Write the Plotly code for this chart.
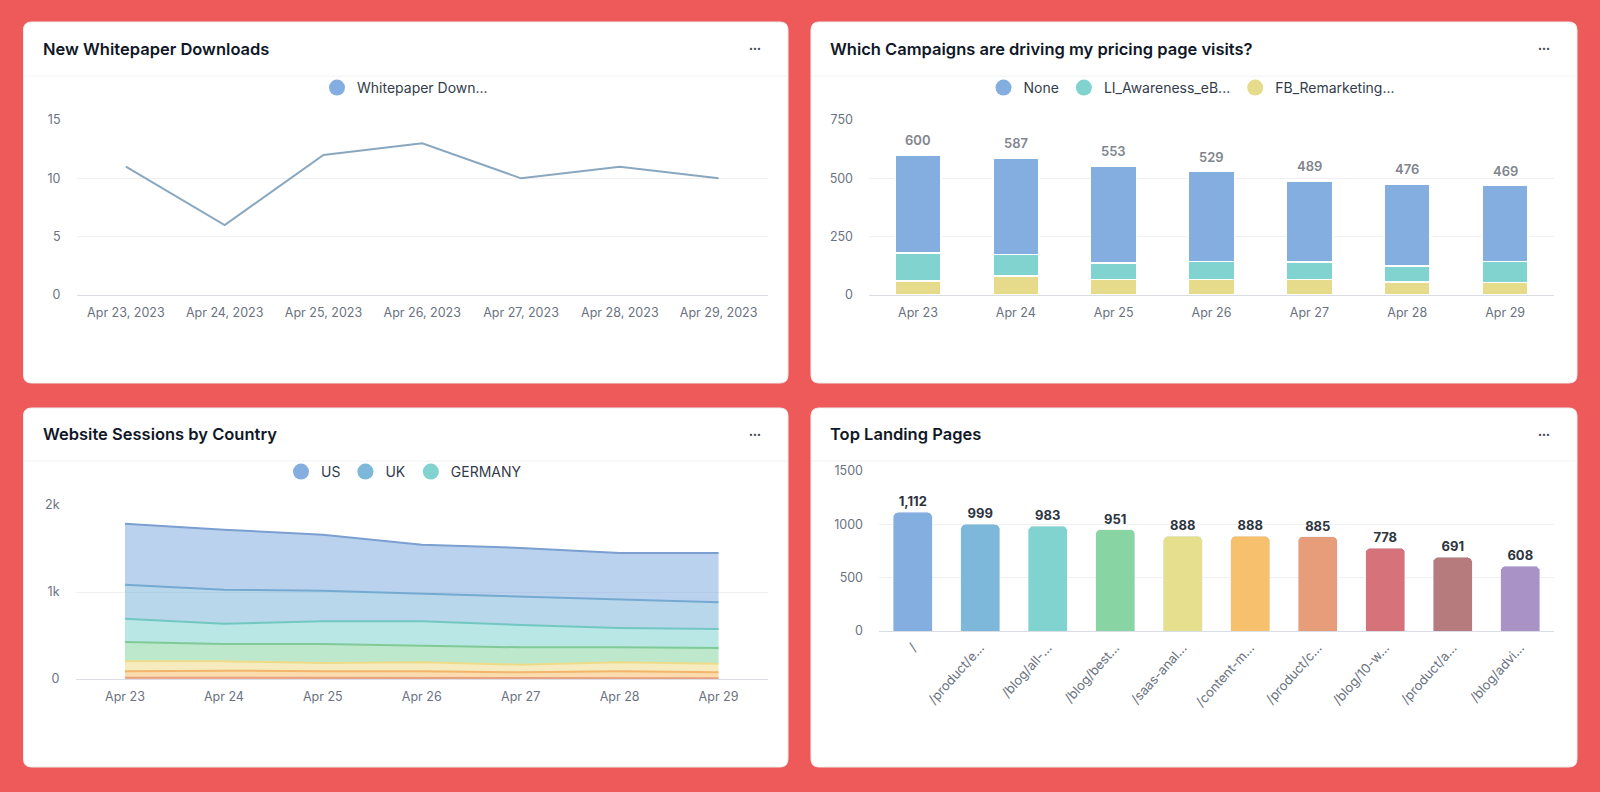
import plotly.graph_objects as go

W, H = 1600, 792

# ---------------- data ----------------
days_full = ["Apr 23, 2023", "Apr 24, 2023", "Apr 25, 2023", "Apr 26, 2023",
             "Apr 27, 2023", "Apr 28, 2023", "Apr 29, 2023"]
days_short = ["Apr 23", "Apr 24", "Apr 25", "Apr 26", "Apr 27", "Apr 28", "Apr 29"]

whitepaper_downloads = [11, 6, 12, 13, 10, 11, 10]

campaign_none = [419, 413, 416, 386, 348, 352, 326]
campaign_li = [121, 93, 71, 77, 75, 68, 89]
campaign_fb = [60, 81, 66, 66, 66, 56, 54]
campaign_totals = [600, 587, 553, 529, 489, 476, 469]

sessions_us = [701, 689, 644, 563, 563, 540, 567]
sessions_uk = [391, 391, 352, 318, 322, 322, 306]
sessions_germany = [268, 234, 261, 280, 257, 222, 219]
sessions_c4 = [222, 199, 218, 191, 199, 172, 180]
sessions_c5 = [115, 107, 96, 104, 88, 104, 99]
sessions_c6 = [74, 84, 76, 76, 67, 76, 67]
sessions_c7 = [14, 12, 12, 12, 10, 12, 10]

landing_pages = ["/", "/product/e...", "/blog/all-...", "/blog/best...", "/saas-anal...",
                 "/content-m...", "/product/c...", "/blog/10-w...", "/product/a...", "/blog/advi..."]
landing_values = [1112, 999, 983, 951, 888, 888, 885, 778, 691, 608]

# ---------------- styling ----------------
FONT = "Inter"
PALETTE = ["#84ADE0", "#7DB7DA", "#80D3CF", "#88D5A3", "#E6DF8D",
           "#F6C06C", "#E89D7A", "#D6737A", "#B67B7C", "#A993C6"]
GRID = "#EEF0F3"
ZERO = "#DADEE4"
TICK = dict(family=FONT, size=12.5, color="#6B7280")


def px_x(p):
    return p / W


def px_y(p):
    return 1 - p / H


def rgba(hexc, a):
    h = hexc.lstrip("#")
    r, g, b = int(h[0:2], 16), int(h[2:4], 16), int(h[4:6], 16)
    return f"rgba({r},{g},{b},{a})"


fig = go.Figure()

# ---- chart 1: line ----
fig.add_trace(go.Scatter(x=days_full, y=whitepaper_downloads, mode="lines",
                         line=dict(color="#8AA7C0", width=2), showlegend=False,
                         xaxis="x", yaxis="y", name="Whitepaper Downloads"))
fig.add_trace(go.Scatter(x=[None], y=[None], mode="markers", name="Whitepaper Down...",
                         marker=dict(size=16, color="#84ADE0"), legend="legend",
                         xaxis="x", yaxis="y"))

# ---- chart 2: stacked bars ----
for name, vals, col in [("FB_Remarketing...", campaign_fb, "#E6DB8A"),
                        ("LI_Awareness_eB...", campaign_li, "#80D3CF"),
                        ("None", campaign_none, "#84ADE0")]:
    fig.add_trace(go.Bar(x=days_short, y=vals, name=name, width=0.47,
                         marker=dict(color=col, line=dict(color="white", width=1.5)),
                         showlegend=False, xaxis="x2", yaxis="y2"))
for name, col in [("None", "#84ADE0"), ("LI_Awareness_eB...", "#80D3CF"), ("FB_Remarketing...", "#E6DB8A")]:
    fig.add_trace(go.Scatter(x=[None], y=[None], mode="markers", name=name,
                             marker=dict(size=16, color=col), legend="legend2",
                             xaxis="x2", yaxis="y2"))

# ---- chart 3: stacked area ----
area_layers = [
    ("C7", sessions_c7, "#E89D7A", "#E8A07E"),
    ("C6", sessions_c6, "#F6C06C", "#F2B56A"),
    ("C5", sessions_c5, "#EEDB8A", "#EEDB8A"),
    ("C4", sessions_c4, "#88D5A3", "#80CA98"),
    ("GERMANY", sessions_germany, "#80D3CF", "#72C7C3"),
    ("UK", sessions_uk, "#7DB7DA", "#74AAD2"),
    ("US", sessions_us, "#84ADE0", "#7A9FD0"),
]
for name, vals, col, lcol in area_layers:
    fig.add_trace(go.Scatter(x=days_short, y=vals, name=name, stackgroup="one", mode="lines",
                             line=dict(color=lcol, width=2), fillcolor=rgba(col, 0.55),
                             showlegend=False, xaxis="x3", yaxis="y3"))
for name, col in [("US", "#84ADE0"), ("UK", "#7DB7DA"), ("GERMANY", "#80D3CF")]:
    fig.add_trace(go.Scatter(x=[None], y=[None], mode="markers", name=name,
                             marker=dict(size=16, color=col), legend="legend3",
                             xaxis="x3", yaxis="y3"))

# ---- chart 4: bars ----
fig.add_trace(go.Bar(x=landing_pages, y=landing_values, width=0.58,
                     marker=dict(color=PALETTE, cornerradius=5),
                     text=[f"{v:,}" for v in landing_values], textposition="outside",
                     textfont=dict(family=FONT, size=13, color="#2D3440", weight=700),
                     cliponaxis=False, showlegend=False, xaxis="x4", yaxis="y4"))

# ---------------- axes ----------------
def xax(domain, anchor, n, angle=0, standoff=6, size=12.5):
    return dict(domain=domain, anchor=anchor, type="category", showgrid=False, showline=True,
                linecolor=ZERO, linewidth=1, ticks="", tickfont=dict(TICK, size=size),
                tickangle=angle, ticklabelstandoff=standoff, range=[-0.5, n - 0.5],
                fixedrange=True, automargin=False)


def yax(domain, anchor, rng, dtick, fmt=None):
    d = dict(domain=domain, anchor=anchor, range=rng, dtick=dtick, showgrid=True, gridcolor=GRID,
             gridwidth=1, zeroline=False, showline=False, ticks="", tickfont=TICK,
             ticklabelstandoff=15, fixedrange=True, automargin=False)
    if fmt:
        d["tickformat"] = fmt
    return d


dom_y_top = [px_y(295), px_y(120)]
fig.update_layout(
    xaxis=xax([px_x(76.5), px_x(768)], "y", 7),
    yaxis=yax(dom_y_top, "x", [0, 15], 5),
    xaxis2=xax([px_x(869), px_x(1554)], "y2", 7),
    yaxis2=yax(dom_y_top, "x2", [0, 750], 250),
    xaxis3=xax([px_x(75.5), px_x(768)], "y3", 7),
    yaxis3=yax([px_y(679), px_y(505)], "x3", [0, 2000], 1000, "~s"),
    xaxis4=xax([px_x(879), px_x(1554)], "y4", 10, angle=-48, standoff=3, size=13),
    yaxis4=yax([px_y(631), px_y(471)], "x4", [0, 1500], 500),
    barmode="stack",
)

# ---------------- legends ----------------
leg_common = dict(orientation="h", xanchor="center", yanchor="middle", bgcolor="rgba(0,0,0,0)",
                  font=dict(family=FONT, size=14, color="#333C4A"), itemclick=False,
                  itemdoubleclick=False, tracegroupgap=0)
fig.update_layout(
    legend=dict(x=px_x(405), y=px_y(88), **leg_common),
    legend2=dict(x=px_x(1192), y=px_y(88), **leg_common),
    legend3=dict(x=px_x(404), y=px_y(472), **leg_common),
)

# ---------------- cards ----------------
shapes = []


def rounded_rect(x0, y0, x1, y1, r):
    def P(x, y):
        return f"{px_x(x):.5f},{px_y(y):.5f}"
    path = (f"M {P(x0 + r, y0)} L {P(x1 - r, y0)} Q {P(x1, y0)} {P(x1, y0 + r)} "
            f"L {P(x1, y1 - r)} Q {P(x1, y1)} {P(x1 - r, y1)} L {P(x0 + r, y1)} "
            f"Q {P(x0, y1)} {P(x0, y1 - r)} L {P(x0, y0 + r)} Q {P(x0, y0)} {P(x0 + r, y0)} Z")
    return dict(type="path", xref="paper", yref="paper", path=path, fillcolor="white",
                line=dict(color="#ECECEE", width=1), layer="below")


cards = [
    (23.5, 22, 788, 383, 76, "New Whitepaper Downloads", 49),
    (811, 22, 1577, 383, 76, "Which Campaigns are driving my pricing page visits?", 49),
    (23.5, 408, 788, 767, 461, "Website Sessions by Country", 434),
    (811, 408, 1577, 767, 461, "Top Landing Pages", 434),
]
annotations = []
for x0, y0, x1, y1, hy, title, ty in cards:
    shapes.append(rounded_rect(x0, y0, x1, y1, 8))
    shapes.append(dict(type="line", xref="paper", yref="paper", x0=px_x(x0 + 1), x1=px_x(x1 - 1),
                       y0=px_y(hy), y1=px_y(hy), line=dict(color="#F1F2F4", width=1), layer="below"))
    annotations.append(dict(text=title, xref="paper", yref="paper", x=px_x(x0 + 17), y=px_y(ty),
                            xanchor="left", yanchor="middle", showarrow=False,
                            font=dict(family=FONT, size=16.5, color="#101828", weight=600)))
    annotations.append(dict(text="•••", xref="paper", yref="paper", x=px_x(x1 - 33), y=px_y(ty),
                            xanchor="center", yanchor="middle", showarrow=False,
                            font=dict(family=FONT, size=7, color="#3F4654")))

# totals above stacked bars
for d, t in zip(days_short, campaign_totals):
    annotations.append(dict(text=str(t), xref="x2", yref="y2", x=d, y=t, yshift=15,
                            xanchor="center", yanchor="middle", showarrow=False,
                            font=dict(family=FONT, size=13, color="#80858E", weight=600)))

fig.update_layout(
    width=W, height=H, margin=dict(l=0, r=0, t=0, b=0, pad=0, autoexpand=False),
    paper_bgcolor="#EE5A5A", plot_bgcolor="rgba(0,0,0,0)",
    shapes=shapes, annotations=annotations,
    font=dict(family=FONT, color="#333C4A"),
    hovermode=False,
)

fig.write_html("out.html", config={"displayModeBar": False})
